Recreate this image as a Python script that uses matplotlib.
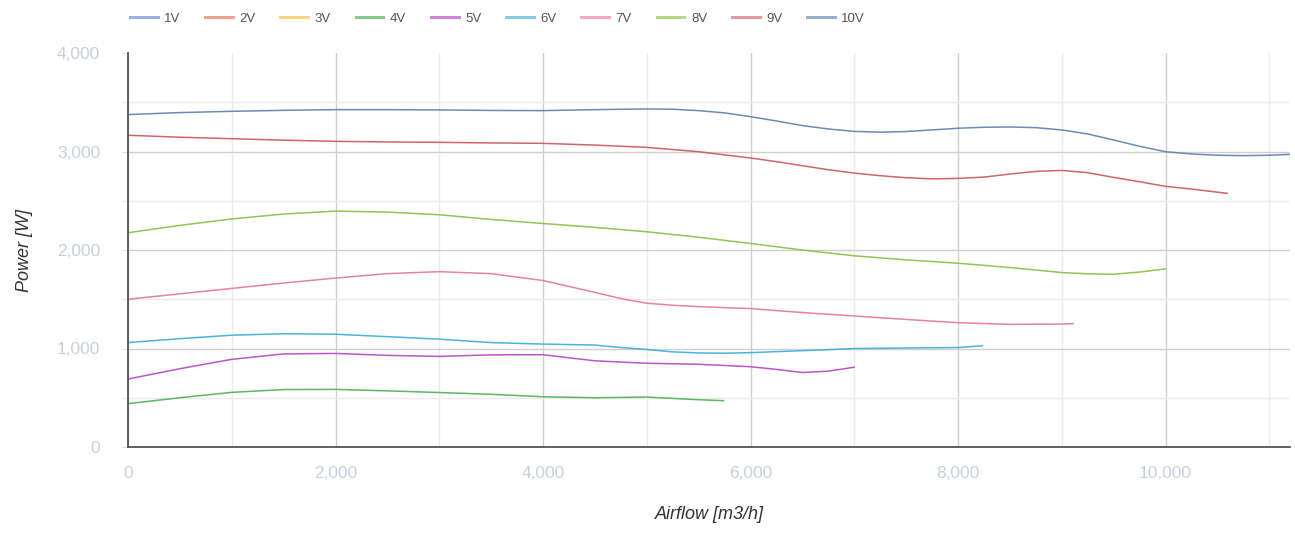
import matplotlib
matplotlib.use('Agg')
import matplotlib.pyplot as plt
from matplotlib.ticker import MultipleLocator, FuncFormatter

plt.rcParams['font.family'] = ['Liberation Sans', 'DejaVu Sans']

# Данные: расход воздуха [m3/h] и мощность [W] для каждого напряжения
labels = ['1V', '2V', '3V', '4V', '5V', '6V', '7V', '8V', '9V', '10V']

x_4v = [0, 500, 1000, 1500, 2000, 2500, 3000, 3500, 4000, 4500, 5000, 5500, 5740]
p_4v = [440, 500, 555, 583, 585, 570, 553, 535, 510, 500, 507, 480, 470]

x_5v = [0, 500, 1000, 1500, 2000, 2500, 3000, 3500, 4000, 4500, 5000, 5500, 6000, 6250,
        6500, 6750, 7000]
p_5v = [690, 795, 890, 945, 950, 930, 920, 935, 937, 875, 850, 840, 815, 788,
        756, 770, 810]

x_6v = [0, 500, 1000, 1500, 2000, 2500, 3000, 3500, 4000, 4500, 4750, 5000, 5250, 5500,
        5750, 6000, 6250, 6500, 6750, 7000, 7500, 8000, 8235]
p_6v = [1060, 1100, 1135, 1150, 1145, 1120, 1095, 1060, 1045, 1035, 1010, 990, 966, 955,
        952, 958, 968, 978, 988, 1000, 1005, 1010, 1028]

x_7v = [0, 500, 1000, 1500, 2000, 2500, 3000, 3500, 4000, 4250, 4500, 4750, 5000, 5250,
        5500, 6000, 6500, 7000, 7500, 8000, 8500, 9000, 9110]
p_7v = [1500, 1555, 1610, 1665, 1715, 1760, 1780, 1760, 1690, 1630, 1570, 1507, 1460, 1439,
        1425, 1405, 1365, 1330, 1295, 1262, 1245, 1248, 1252]

x_8v = [0, 500, 1000, 1500, 2000, 2500, 3000, 3500, 4000, 4500, 5000, 5500, 6000, 6500,
        7000, 7500, 8000, 8500, 9000, 9250, 9500, 9750, 10000]
p_8v = [2175, 2250, 2315, 2365, 2395, 2385, 2358, 2310, 2269, 2230, 2185, 2130, 2066, 2000,
        1941, 1900, 1866, 1822, 1771, 1758, 1754, 1776, 1808]

x_9v = [0, 500, 1000, 1500, 2000, 2500, 3000, 3500, 4000, 4500, 5000, 5500, 6000, 6250,
        6500, 6750, 7000, 7250, 7500, 7750, 8000, 8250, 8500, 8750, 9000, 9250, 9500, 9750,
        10000, 10250, 10595]
p_9v = [3165, 3145, 3130, 3115, 3103, 3097, 3093, 3087, 3083, 3065, 3042, 2998, 2934, 2897,
        2856, 2815, 2781, 2754, 2734, 2722, 2727, 2740, 2771, 2798, 2808, 2785, 2737, 2693,
        2646, 2619, 2575]

x_10v = [0, 500, 1000, 1500, 2000, 2500, 3000, 3500, 4000, 4500, 5000, 5250, 5500, 5750,
         6000, 6250, 6500, 6750, 7000, 7250, 7500, 7750, 8000, 8250, 8500, 8750, 9000, 9250,
         9500, 9750, 10000, 10250, 10500, 10750, 11000, 11200]
p_10v = [3375, 3395, 3408, 3418, 3425, 3425, 3422, 3417, 3415, 3425, 3432, 3429, 3415, 3392,
         3354, 3310, 3263, 3229, 3204, 3196, 3203, 3219, 3236, 3246, 3249, 3242, 3219, 3178,
         3117, 3053, 2998, 2975, 2962, 2958, 2962, 2971]

# 1V-3V без данных (только в легенде)
series = {
    '1V': ([], []), '2V': ([], []), '3V': ([], []),
    '4V': (x_4v, p_4v), '5V': (x_5v, p_5v), '6V': (x_6v, p_6v),
    '7V': (x_7v, p_7v), '8V': (x_8v, p_8v), '9V': (x_9v, p_9v), '10V': (x_10v, p_10v),
}

line_colors = ['#6f8fd6', '#e8775f', '#f5b94f', '#4caf50', '#b444c4', '#37acd6',
               '#e8739a', '#86bf3e', '#c9545b', '#5a7fae']
legend_colors = ['#9ab0e4', '#f0a090', '#ffd27f', '#86c98a', '#d184d9', '#86cbe6',
                 '#f4a6c2', '#b2da86', '#e39a9c', '#98b0d0']

fig = plt.figure(figsize=(12.95, 5.33), dpi=100)
ax = fig.add_axes([128 / 1295, 1 - 447 / 533, (1290 - 128) / 1295, (447 - 53) / 533])

for i, name in enumerate(labels):
    xs, ys = series[name]
    ax.plot(xs, ys, color=line_colors[i], linewidth=1.1, alpha=0.9)

# Легенда сверху
handles = [plt.Line2D([], [], color=c, linewidth=2.2) for c in legend_colors]
fig.legend(handles, labels, loc='upper left', ncol=10, frameon=False,
           bbox_to_anchor=(118 / 1295, 1.0 - 1 / 533), fontsize=9.5, handlelength=2.1,
           handletextpad=0.5, columnspacing=1.87, labelcolor='#555555')

ax.set_xlim(0, 11200)
ax.set_ylim(0, 4000)
ax.set_xticks([0, 2000, 4000, 6000, 8000, 10000])
ax.set_yticks([0, 1000, 2000, 3000, 4000])
ax.xaxis.set_minor_locator(MultipleLocator(1000))
ax.yaxis.set_minor_locator(MultipleLocator(500))
fmt = FuncFormatter(lambda v, p: f'{int(v):,}')
ax.xaxis.set_major_formatter(fmt)
ax.yaxis.set_major_formatter(fmt)

ax.grid(True, which='major', color='#cfcfcf', linewidth=1.0)
ax.grid(True, which='minor', color='#ebebeb', linewidth=1.0)
ax.set_axisbelow(True)
ax.get_ygridlines()[-1].set_visible(False)

ax.tick_params(axis='both', which='both', colors='#c8cedc', labelsize=12.5)
ax.tick_params(axis='x', which='both', length=0, pad=14)
ax.tick_params(axis='y', which='both', length=4, pad=16, color='#e0e0e0')

for s in ['top', 'right']:
    ax.spines[s].set_visible(False)
for s in ['left', 'bottom']:
    ax.spines[s].set_color('#555555')
    ax.spines[s].set_linewidth(1.3)

ax.set_xlabel('Airflow [m3/h]', fontsize=13, style='italic', color='#333333', labelpad=18)
ax.set_ylabel('Power [W]', fontsize=13, style='italic', color='#333333', labelpad=17)

fig.savefig('out.png', dpi=100)
